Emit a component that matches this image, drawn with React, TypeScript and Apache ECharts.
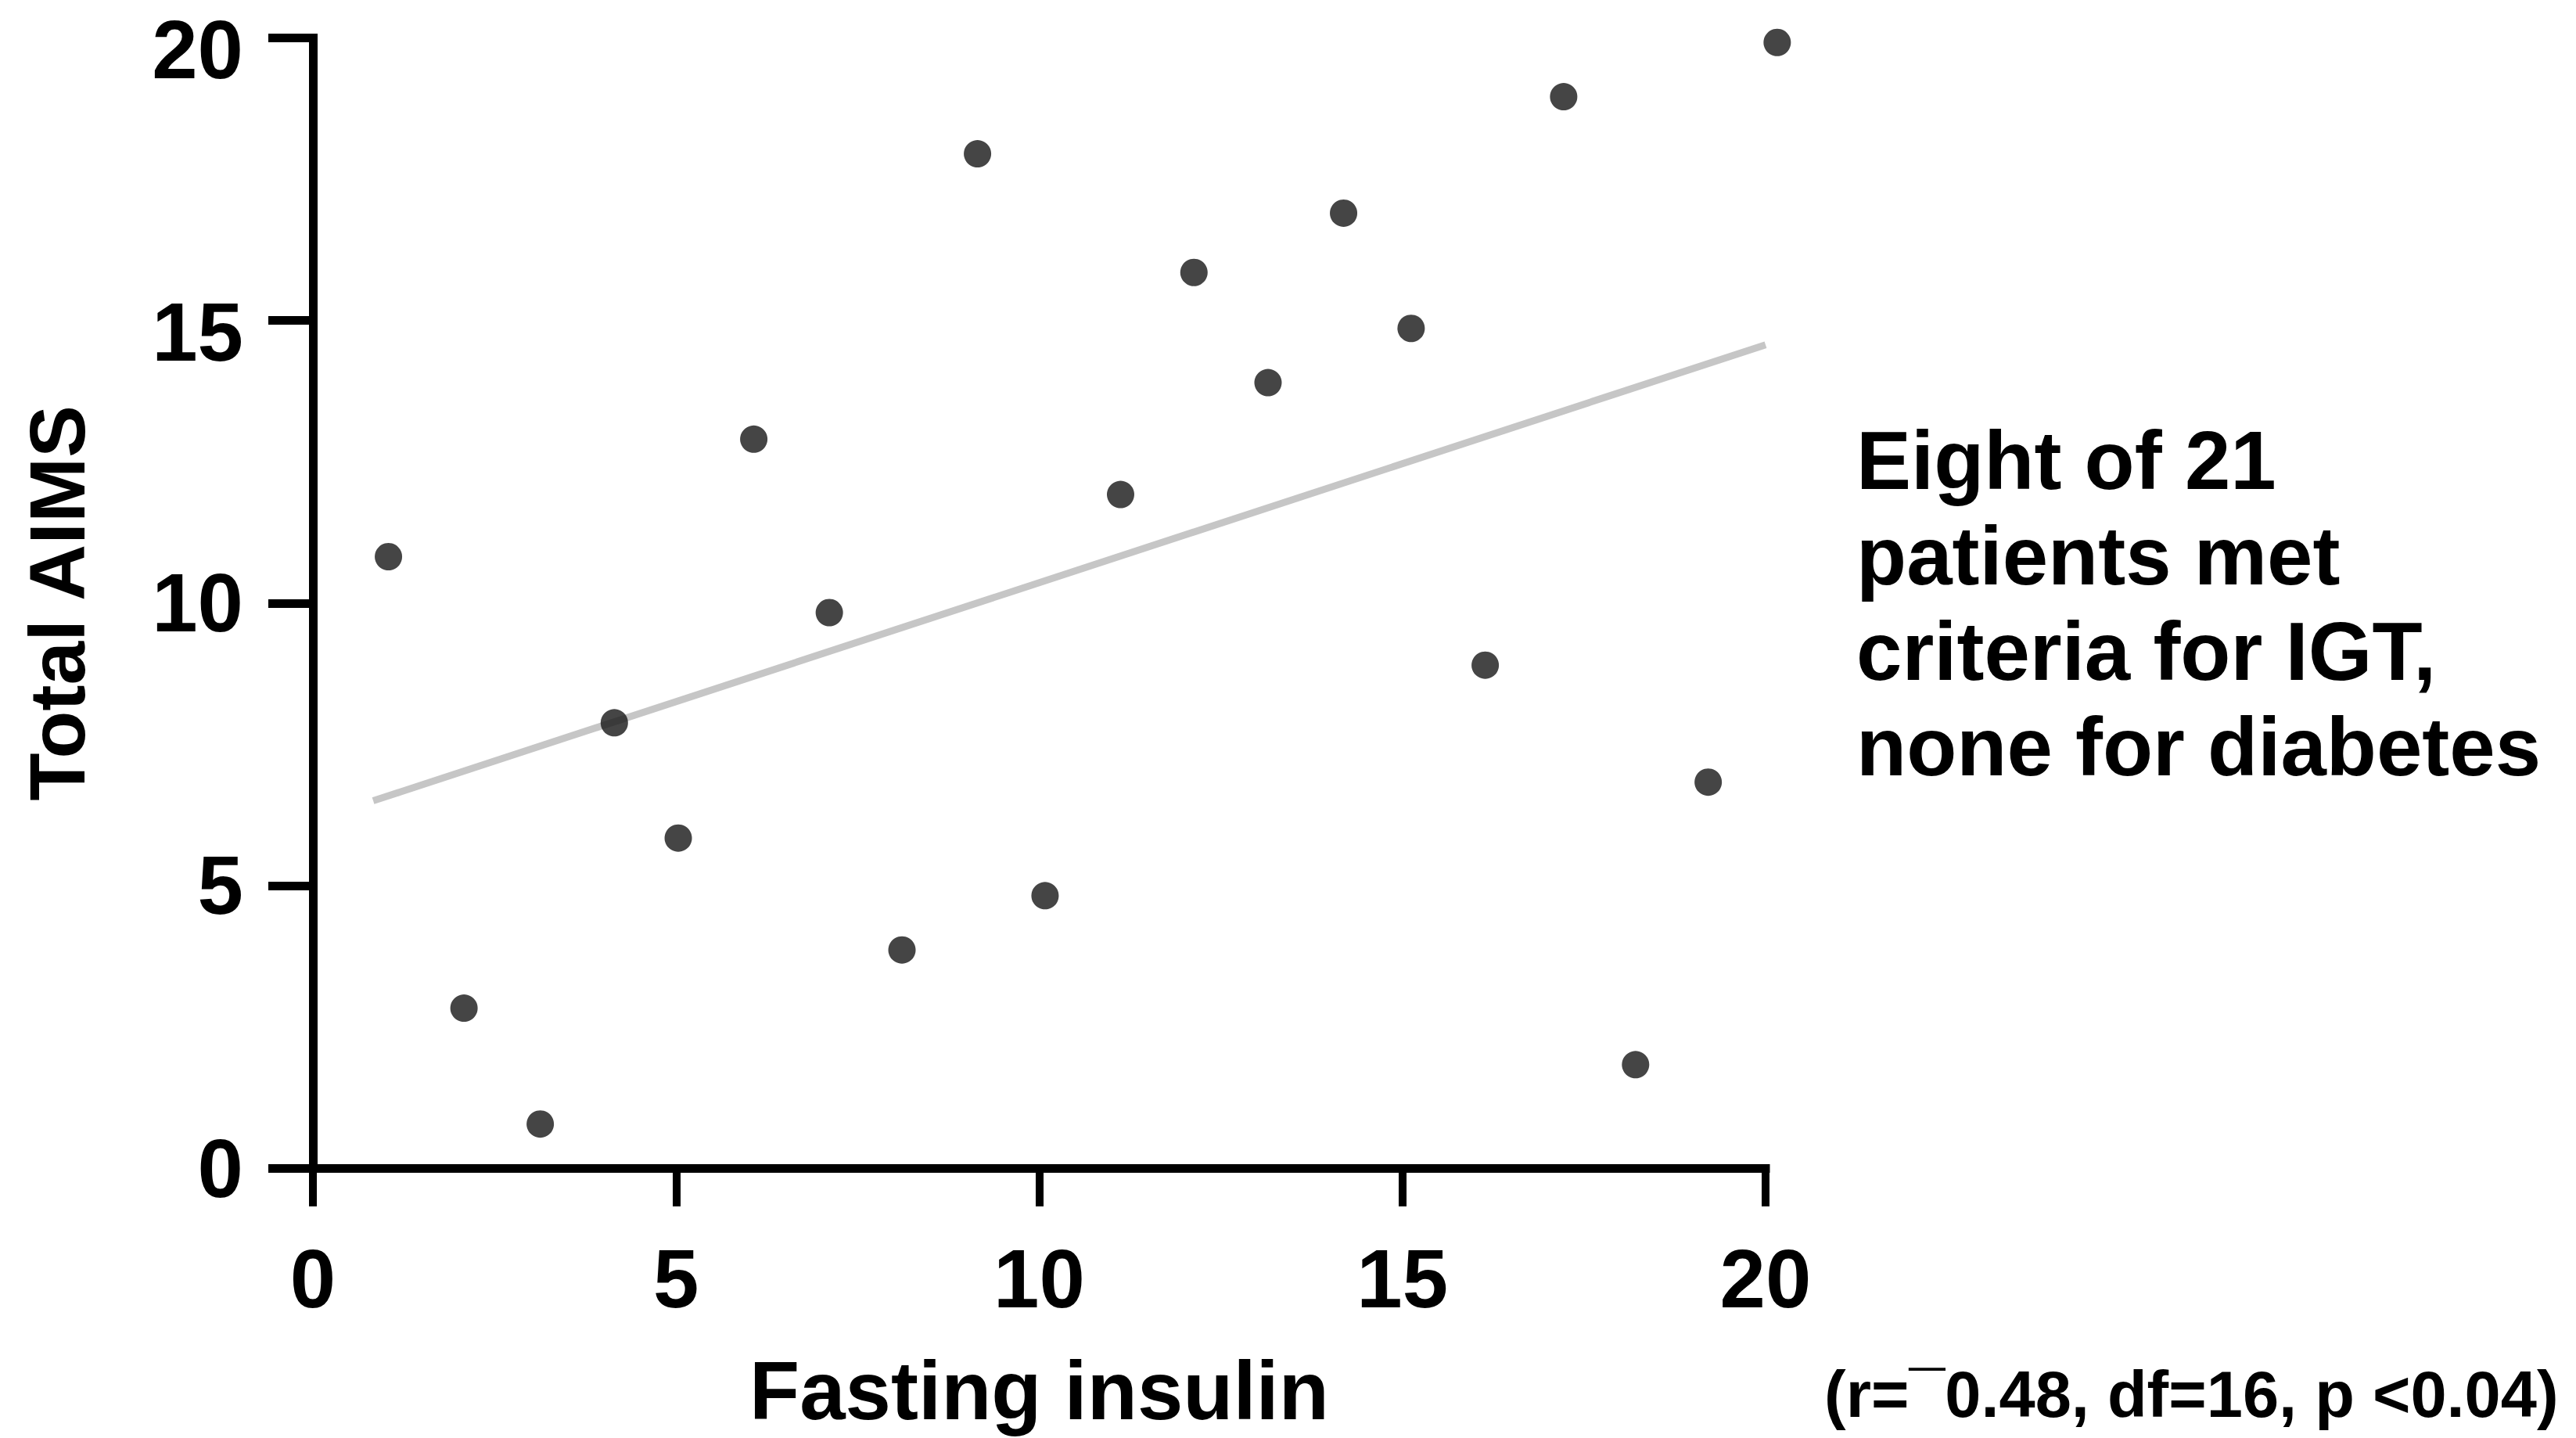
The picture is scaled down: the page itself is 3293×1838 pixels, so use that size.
import React, { useEffect, useRef } from "react";
import * as echarts from "echarts";

const insulin = [1.04, 2.08, 3.13, 4.15, 5.03, 6.07, 7.11, 8.11, 9.15, 10.08, 11.12, 12.13, 13.15, 14.19, 15.12, 16.14, 17.22, 18.21, 19.21, 20.16];
const aims = [10.82, 2.83, 0.78, 7.88, 5.84, 12.9, 9.83, 3.86, 17.95, 4.82, 11.92, 15.85, 13.9, 16.9, 14.86, 8.9, 18.96, 1.83, 6.83, 19.92];
const trendX = [0.83, 20.0];
const trendY = [6.5, 14.57];
const xTitle = "Fasting insulin";
const yTitle = "Total AIMS";
const noteLines = ["Eight of 21", "patients met", "criteria for IGT,", "none for diabetes"];
const statsText = "(r=¯0.48, df=16, p <0.04)";

const FONT = "'Liberation Sans', Arial, Helvetica, sans-serif";

export default function App() {
  const ref = useRef<HTMLDivElement>(null);
  useEffect(() => {
    if (!ref.current) return;
    const chart = echarts.init(ref.current, null, { renderer: "svg" });
    const labelBase = {
      color: "#000",
      fontSize: 105,
      fontWeight: "bold",
      fontFamily: FONT,
      margin: 89,
    };
    const axisCommon = {
      type: "value" as const,
      min: 0,
      max: 20,
      interval: 5,
      splitLine: { show: false },
      axisLine: { show: true, lineStyle: { color: "#000", width: 11, cap: "square" } },
      nameTextStyle: { color: "#000", fontWeight: "bold", fontFamily: FONT },
    };
    chart.setOption({
      animation: false,
      backgroundColor: "#fff",
      grid: {
        left: 400,
        right: 1036,
        top: 48.5,
        bottom: 345,
        containLabel: false,
        outerBoundsMode: "none",
      },
      xAxis: {
        ...axisCommon,
        name: xTitle,
        nameLocation: "middle",
        nameGap: 232,
        nameTextStyle: { ...axisCommon.nameTextStyle, fontSize: 105 },
        axisLabel: { ...labelBase },
        axisTick: { show: true, length: 49, lineStyle: { color: "#000", width: 10 } },
      },
      yAxis: {
        ...axisCommon,
        name: yTitle,
        nameLocation: "middle",
        nameGap: 277,
        nameTextStyle: { ...axisCommon.nameTextStyle, fontSize: 100 },
        axisLabel: {
          ...labelBase,
          lineHeight: 80,
          formatter: (v: number) => (v >= 15 ? `{hi|${v}}` : `${v}`),
          rich: {
            hi: {
              color: "#000",
              fontSize: 105,
              fontWeight: "bold",
              fontFamily: FONT,
              lineHeight: 80,
              padding: [30, 0, 0, 0],
            },
          },
        },
        axisTick: { show: true, length: 57, lineStyle: { color: "#000", width: 11 } },
      },
      series: [
        {
          type: "line",
          data: trendX.map((x, i) => [x, trendY[i]]),
          symbol: "none",
          lineStyle: { color: "#c6c6c6", width: 9 },
          z: 1,
          silent: true,
          clip: false,
        },
        {
          type: "scatter",
          data: insulin.map((x, i) => [x, aims[i]]),
          symbol: "circle",
          symbolSize: 35,
          itemStyle: { color: "#161616" },
          z: 3,
          clip: false,
        },
      ],
      graphic: [
        {
          type: "text",
          left: 2373,
          top: 527,
          style: {
            text: noteLines.join("\n"),
            fill: "#000",
            fontSize: 105,
            fontWeight: "bold",
            fontFamily: FONT,
            lineHeight: 122,
          },
        },
        {
          type: "text",
          left: 2332,
          top: 1741,
          style: {
            text: statsText,
            fill: "#000",
            fontSize: 83,
            fontWeight: "bold",
            fontFamily: FONT,
          },
        },
      ],
    });
    return () => chart.dispose();
  }, []);
  return (
    <div
      ref={ref}
      style={{ position: "fixed", left: 0, top: 0, width: 3293, height: 1838, background: "#fff" }}
    />
  );
}
